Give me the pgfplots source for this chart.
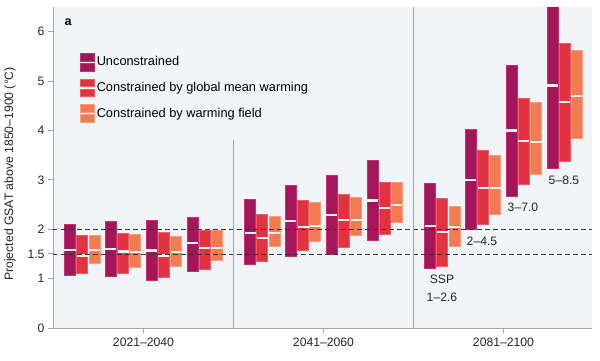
\documentclass[border=0pt]{standalone}
\usepackage{pgfplots}
\pgfplotsset{compat=1.18}
\usepackage{fontspec}
\setmainfont{Liberation Sans}
\definecolor{uF}{HTML}{A3165A}
\definecolor{uD}{HTML}{C63070}
\definecolor{gF}{HTML}{E0323F}
\definecolor{gD}{HTML}{EE5C64}
\definecolor{fF}{HTML}{F37B52}
\definecolor{fD}{HTML}{F79C7C}
\definecolor{bgc}{HTML}{F2F5F7}
\definecolor{medc}{HTML}{FFF0F3}
\pgfplotsset{splitbox/.style={legend image code/.code={%
  \draw[##1] (0pt,1pt) rectangle (14pt,8.5pt);
  \draw[##1] (0pt,-1.5pt) rectangle (14pt,-9pt);}},
  bU/.style={fill=uF, draw=uD},
  bG/.style={fill=gF, draw=gD},
  bF/.style={fill=fF, draw=fD}}
\newcommand{\bx}[6]{%
\addplot[#6, line width=0.6pt, forget plot] coordinates {(#1,#3) (#2,#3) (#2,#5) (#1,#5)} -- cycle;
\addplot[draw=medc, line width=2.2pt, forget plot] coordinates {(#1,#4) (#2,#4)};}
\begin{document}
\begin{tikzpicture}
\useasboundingbox (0,0) rectangle (600pt,360pt);
\begin{axis}[
  at={(53pt,32pt)}, anchor=south west,
  scale only axis, width=539pt, height=321pt,
  xmin=53, xmax=592, ymin=0, ymax=6.5,
  axis x line*=bottom, axis y line*=left,
  axis line style={draw=black!35, line width=0.9pt},
  axis background/.style={fill=bgc},
  ytick={0,1,1.5,2,3,4,5,6}, yticklabels={0,1,1.5,2,3,4,5,6},
  xtick={143.5,323.5,503.5}, xticklabels={2021–2040,2041–2060,2081–2100},
  tick align=outside, major tick length=5pt,
  tick style={draw=black!35, line width=0.9pt},
  ticklabel style={font=\fontsize{12.2}{14}\selectfont, text=black!85},
  xticklabel style={yshift=-1pt},
  /pgf/number format/assume math mode=true,
  ylabel={Projected GSAT above 1850–1900 (°C)},
  ylabel style={at={(axis description cs:-0.08,0.48)}, anchor=center, font=\fontsize{12.2}{14}\selectfont, text=black!85},
  legend style={at={(axis description cs:0.05,0.857)}, anchor=north west, draw=none, fill=none,
    font=\fontsize{12.8}{14}\selectfont, row sep=7.5pt, inner sep=0pt},
  legend cell align=left,
]
\addlegendimage{splitbox, bU, line width=0.6pt}
\addlegendentry{Unconstrained}
\addlegendimage{splitbox, bG, line width=0.6pt}
\addlegendentry{Constrained by global mean warming}
\addlegendimage{splitbox, bF, line width=0.6pt}
\addlegendentry{Constrained by warming field}
% 2021-2040
\bx{64.5}{75.5}{1.06}{1.58}{2.10}{bU}
\bx{76.7}{87.7}{1.11}{1.47}{1.87}{bG}
\bx{88.9}{99.9}{1.32}{1.58}{1.87}{bF}
\bx{105.3}{116.3}{1.05}{1.60}{2.16}{bU}
\bx{117.5}{128.5}{1.11}{1.55}{1.92}{bG}
\bx{129.7}{140.7}{1.23}{1.54}{1.90}{bF}
\bx{146.1}{157.1}{0.97}{1.57}{2.19}{bU}
\bx{158.3}{169.3}{1.03}{1.47}{1.94}{bG}
\bx{170.5}{181.5}{1.24}{1.54}{1.86}{bF}
\bx{186.9}{197.9}{1.14}{1.72}{2.24}{bU}
\bx{199.1}{210.1}{1.19}{1.62}{1.97}{bG}
\bx{211.3}{222.3}{1.38}{1.62}{1.97}{bF}
% 2041-2060
\bx{244.5}{255.5}{1.28}{1.93}{2.60}{bU}
\bx{256.7}{267.7}{1.35}{1.83}{2.31}{bG}
\bx{268.9}{279.9}{1.65}{1.92}{2.27}{bF}
\bx{285.3}{296.3}{1.46}{2.17}{2.89}{bU}
\bx{297.5}{308.5}{1.57}{2.05}{2.58}{bG}
\bx{309.7}{320.7}{1.76}{2.07}{2.54}{bF}
\bx{326.1}{337.1}{1.50}{2.29}{3.10}{bU}
\bx{338.3}{349.3}{1.64}{2.18}{2.71}{bG}
\bx{350.5}{361.5}{1.87}{2.19}{2.64}{bF}
\bx{366.9}{377.9}{1.78}{2.58}{3.39}{bU}
\bx{379.1}{390.1}{1.89}{2.43}{2.95}{bG}
\bx{391.3}{402.3}{2.14}{2.49}{2.95}{bF}
% 2081-2100
\bx{424.5}{435.5}{1.21}{2.07}{2.94}{bU}
\bx{436.7}{447.7}{1.24}{1.94}{2.62}{bG}
\bx{448.9}{459.9}{1.65}{2.05}{2.46}{bF}
\bx{465.3}{476.3}{1.99}{3.00}{4.03}{bU}
\bx{477.5}{488.5}{2.10}{2.83}{3.60}{bG}
\bx{489.7}{500.7}{2.31}{2.83}{3.49}{bF}
\bx{506.1}{517.1}{2.66}{4.00}{5.32}{bU}
\bx{518.3}{529.3}{2.91}{3.78}{4.65}{bG}
\bx{530.5}{541.5}{3.12}{3.76}{4.57}{bF}
\bx{546.9}{557.9}{3.23}{4.91}{6.60}{bU}
\bx{559.1}{570.1}{3.37}{4.58}{5.77}{bG}
\bx{571.3}{582.3}{3.85}{4.69}{5.62}{bF}
% reference lines
\addplot[draw=black!80, dash pattern=on 4.5pt off 3.5pt, line width=0.8pt, forget plot] coordinates {(53,1.5) (592,1.5)};
\addplot[draw=black!80, dash pattern=on 4.5pt off 3.5pt, line width=0.8pt, forget plot] coordinates {(53,2) (592,2)};
% separators
\addplot[draw=black!35, line width=1pt, forget plot] coordinates {(233.3,0) (233.3,3.8)};
\addplot[draw=black!35, line width=1pt, forget plot] coordinates {(413,0) (413,6.5)};
% labels
\node[font=\fontsize{12.5}{14}\selectfont\bfseries, anchor=west] at (axis cs:61,6.2) {a};
\node[font=\fontsize{12.2}{14}\selectfont, text=black!85] at (axis cs:442,0.99) {SSP};
\node[font=\fontsize{12.2}{14}\selectfont, text=black!85] at (axis cs:442,0.62) {1–2.6};
\node[font=\fontsize{12.2}{14}\selectfont, text=black!85] at (axis cs:482,1.75) {2–4.5};
\node[font=\fontsize{12.2}{14}\selectfont, text=black!85] at (axis cs:523,2.45) {3–7.0};
\node[font=\fontsize{12.2}{14}\selectfont, text=black!85] at (axis cs:564,3.0) {5–8.5};
\end{axis}
\end{tikzpicture}
\end{document}
